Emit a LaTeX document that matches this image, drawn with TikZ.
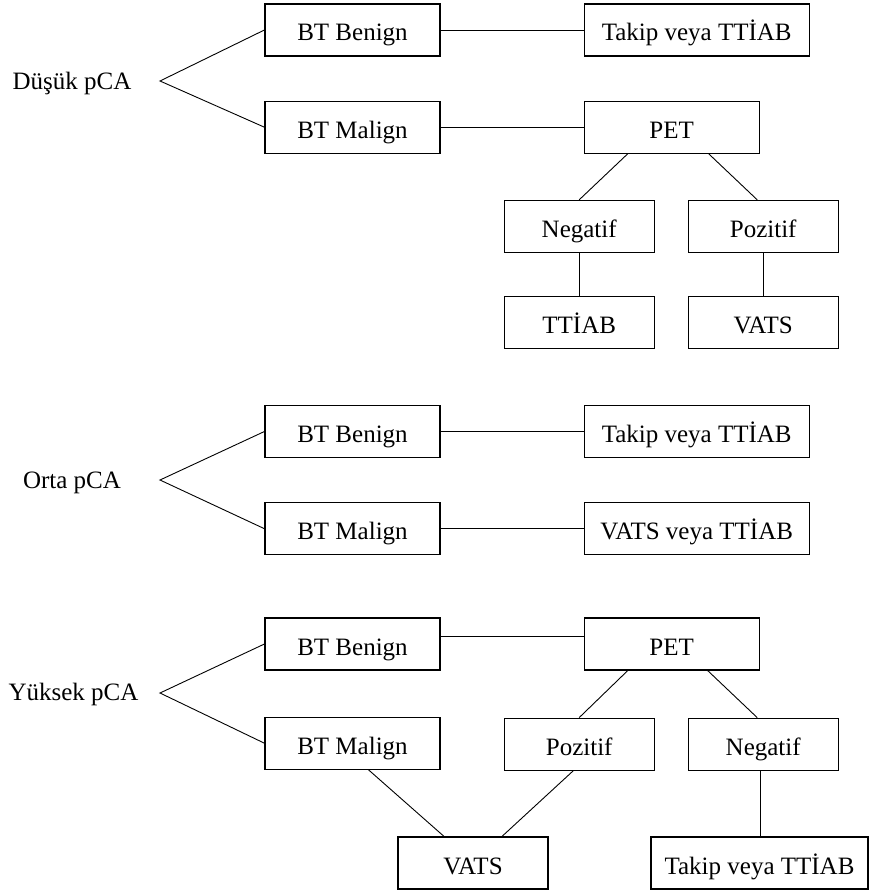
\documentclass[tikz,border=0pt]{standalone}
\usepackage{fontspec}
\setmainfont{Liberation Serif}
\usepackage{tikz}
\usetikzlibrary{positioning}
\tikzset{kbox/.style={draw,line width=1.2pt,minimum width=175pt,minimum height=52pt,inner sep=0pt,
		 text height=24pt,text depth=2pt,font=\fontsize{25}{30}\selectfont},
	 wbox/.style={kbox,minimum width=225pt},
	 sbox/.style={kbox,minimum width=150pt},
	 plabel/.style={inner sep=0pt,text height=24pt,text depth=2pt,font=\fontsize{25}{30}\selectfont},
	 conn/.style={line width=0.9pt},
	 node distance = 44pt
	 }
\begin{document}
\begin{tikzpicture}[x=1pt,y=1pt] % pCA risk groups
	\useasboundingbox (0,0) rectangle (869,-891);
	% Dusuk pCA
	\node[plabel] (dl) at (72,-78) {Düşük pCA};
	\coordinate (v1) at (160,-81);
	\node[kbox] (bb1) at (352.5,-30) {BT Benign};
	\node[kbox] (bm1) [below= of bb1] {BT Malign};
	\node[wbox] (tk1) [right=143pt of bb1] {Takip veya TTİAB};
	\node[kbox] (pet1) [right=143pt of bm1] {PET};
	\node[sbox] (neg1) [below=46pt of pet1, xshift=-92.5pt] {Negatif};
	\node[sbox] (poz1) [below=46pt of pet1, xshift=91.5pt] {Pozitif};
	\node[sbox] (tt1) [below=43pt of neg1] {TTİAB};
	\node[sbox] (vats1) [below=43pt of poz1] {VATS};
	\draw[conn] (bb1.west) -- (v1) -- (bm1.west);
	\draw[conn] (bb1) -- (tk1);
	\draw[conn] (bm1) -- (pet1);
	\draw[conn] ([xshift=-44pt]pet1.south) -- (neg1.north);
	\draw[conn] ([xshift=37pt]pet1.south) -- ([xshift=-6pt]poz1.north);
	\draw[conn] (neg1) -- (tt1);
	\draw[conn] (poz1) -- (vats1);
	% Orta pCA
	\node[plabel] (ol) at (72,-477) {Orta pCA};
	\coordinate (v2) at (160,-480);
	\node[kbox] (bb2) at (352.5,-431.5) {BT Benign};
	\node[kbox] (bm2) [below= of bb2] {BT Malign};
	\node[wbox] (tk2) [right=143pt of bb2] {Takip veya TTİAB};
	\node[wbox] (vt2) [right=143pt of bm2] {VATS veya TTİAB};
	\draw[conn] (bb2.west) -- (v2) -- (bm2.west);
	\draw[conn] (bb2) -- (tk2);
	\draw[conn] (bm2) -- (vt2);
	% Yuksek pCA
	\node[plabel] (yl) at (73.5,-689) {Yüksek pCA};
	\coordinate (v3) at (160,-693);
	\node[kbox] (bb3) at (352.5,-644) {BT Benign};
	\node[kbox] (bm3) [below=46pt of bb3] {BT Malign};
	\node[kbox] (pet3) [right=143pt of bb3] {PET};
	\node[sbox] (poz3) [below=47pt of pet3, xshift=-92.5pt] {Pozitif};
	\node[sbox] (neg3) [below=47pt of pet3, xshift=91.5pt] {Negatif};
	\node[sbox] (vats3) at (473,-863) {VATS};
	\node[kbox,minimum width=217pt] (tk3) at (759.5,-863) {Takip veya TTİAB};
	\draw[conn] (bb3.west) -- (v3) -- (bm3.west);
	\draw[conn] ([yshift=8pt]bb3.east) -- ([yshift=8pt]pet3.west);
	\draw[conn] ([xshift=-44pt]pet3.south) -- (poz3.north);
	\draw[conn] ([xshift=36pt]pet3.south) -- ([xshift=-6pt]neg3.north);
	\draw[conn] ([xshift=16pt]bm3.south) -- ([xshift=-29pt]vats3.north);
	\draw[conn] ([xshift=-6pt]poz3.south) -- ([xshift=29pt]vats3.north);
	\draw[conn] ([xshift=-3pt]neg3.south) -- ([xshift=-3pt]neg3.south |- tk3.north);
\end{tikzpicture}
\end{document}
